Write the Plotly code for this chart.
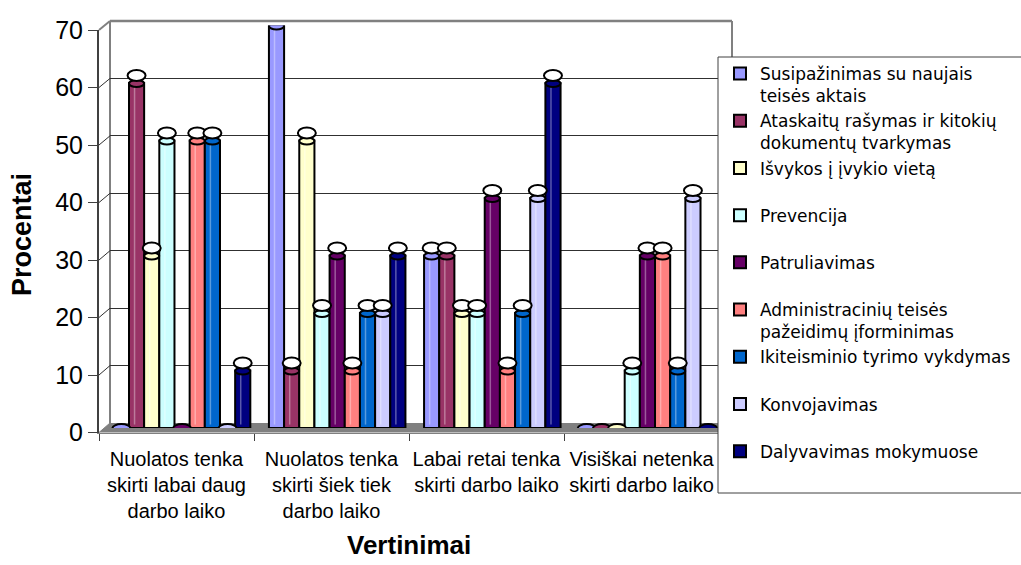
import plotly.graph_objects as go

# ---------------- data ----------------
categories = [
    "Nuolatos tenka<br>skirti labai daug<br>darbo laiko",
    "Nuolatos tenka<br>skirti šiek tiek<br>darbo laiko",
    "Labai retai tenka<br>skirti darbo laiko",
    "Visiškai netenka<br>skirti darbo laiko",
]
series_names = [
    "Susipažinimas su naujais<br>teisės aktais",
    "Ataskaitų rašymas ir kitokių<br>dokumentų tvarkymas",
    "Išvykos į įvykio vietą<br>\u00a0",
    "Prevencija<br>\u00a0",
    "Patruliavimas<br>\u00a0",
    "Administracinių teisės<br>pažeidimų įforminimas",
    "Ikiteisminio tyrimo vykdymas<br>\u00a0",
    "Konvojavimas<br>\u00a0",
    "Dalyvavimas mokymuose<br>\u00a0",
]
s_susipazinimas = [0, 70, 30, 0]
s_ataskaitos = [60, 10, 30, 0]
s_isvykos = [30, 50, 20, 0]
s_prevencija = [50, 20, 20, 10]
s_patruliavimas = [0, 30, 40, 30]
s_administracines = [50, 10, 10, 30]
s_ikiteisminis = [50, 20, 20, 10]
s_konvojavimas = [0, 20, 40, 40]
s_mokymai = [10, 30, 60, 0]
series_values = [s_susipazinimas, s_ataskaitos, s_isvykos, s_prevencija,
                 s_patruliavimas, s_administracines, s_ikiteisminis,
                 s_konvojavimas, s_mokymai]
colors = ["#9999FF", "#993366", "#FFFFCC", "#CCFFFF", "#660066",
          "#FF8080", "#0066CC", "#CCCCFF", "#000080"]
y_ticks = [0, 10, 20, 30, 40, 50, 60, 70]

# ---------------- geometry helpers (pixel -> paper) ----------------
W, H = 1021, 565
def fx(px):
    return px / W
def fy(py):
    return 1 - py / H

FRONT_X = (99, 719); FRONT_Y = (432.5, 30)
BACK_X = (110, 731); BACK_Y = (423, 21)
MID_X = (104.5, 725); MID_Y = (428, 25.5)
LEG = (718, 57, 493)  # left, top, bottom of legend box
YMAX = 70

def yF(v):
    return FRONT_Y[0] - v * (FRONT_Y[0] - FRONT_Y[1]) / YMAX
def yB(v):
    return BACK_Y[0] - v * (BACK_Y[0] - BACK_Y[1]) / YMAX

fig = go.Figure()

# invisible trace carrying the category labels on the front axis
fig.add_trace(go.Scatter(x=categories, y=[0] * len(categories), mode="markers",
                         marker=dict(opacity=0), hoverinfo="skip",
                         showlegend=False, xaxis="x", yaxis="y"))
# invisible trace to create the back-wall subplot (gridlines)
fig.add_trace(go.Scatter(x=[0], y=[0], mode="markers", marker=dict(opacity=0),
                         hoverinfo="skip", showlegend=False,
                         xaxis="x2", yaxis="y2"))

xs = list(range(len(categories)))
for name, vals, col in zip(series_names, series_values, colors):
    fig.add_trace(go.Bar(
        x=xs, y=vals, name=name, xaxis="x3", yaxis="y3",
        marker=dict(color=col, line=dict(color="black", width=2)),
    ))

# ---------------- shapes ----------------
shapes = []
# floor
shapes.append(dict(type="path", xref="paper", yref="paper", layer="below",
                   path=f"M {fx(FRONT_X[0])},{fy(FRONT_Y[0])} L {fx(1021)},{fy(FRONT_Y[0])} "
                        f"L {fx(1021)},{fy(BACK_Y[0])} L {fx(BACK_X[0])},{fy(BACK_Y[0])} Z",
                   fillcolor="#808080", line=dict(width=0)))
# side-wall diagonals
for v in y_ticks:
    col = "#808080" if v in (0, YMAX) else "#303030"
    shapes.append(dict(type="line", xref="paper", yref="paper", layer="above",
                       x0=fx(FRONT_X[0]), y0=fy(yF(v)), x1=fx(BACK_X[0]), y1=fy(yB(v)),
                       line=dict(color=col, width=2 if v == YMAX else 1)))
# back wall left edge, top edge, right edge
shapes.append(dict(type="line", xref="paper", yref="paper", layer="below",
                   x0=fx(BACK_X[0]), y0=fy(BACK_Y[0]), x1=fx(BACK_X[0]), y1=fy(BACK_Y[1]),
                   line=dict(color="#808080", width=2)))
shapes.append(dict(type="line", xref="paper", yref="paper", layer="above",
                   x0=fx(BACK_X[0]), y0=fy(BACK_Y[1]), x1=fx(BACK_X[1] + 1), y1=fy(BACK_Y[1]),
                   line=dict(color="#808080", width=2.5)))
shapes.append(dict(type="line", xref="paper", yref="paper", layer="above",
                   x0=fx(BACK_X[1] + 1), y0=fy(BACK_Y[1]), x1=fx(BACK_X[1] + 1), y1=fy(BACK_Y[0]),
                   line=dict(color="#808080", width=2)))

# cylinder caps and (blank) data-label ovals, anchored to each bar
n = len(series_values)
bargap = 0.12
bw = (1 - bargap) / n
for i, (vals, col) in enumerate(zip(series_values, colors)):
    for k, v in enumerate(vals):
        xc = k - (1 - bargap) / 2 + (i + 0.5) * bw
        if v == 0:
            shapes.append(dict(type="circle", xref="x3", yref="y3", layer="above",
                               xsizemode="pixel", ysizemode="pixel",
                               xanchor=xc, yanchor=v, x0=-9, x1=9, y0=-5, y1=4,
                               fillcolor=col, line=dict(color="black", width=2)))
            continue
        # subtle highlight stripe of the cylinder
        shapes.append(dict(type="line", xref="x3", yref="y3", layer="above",
                           xsizemode="pixel", xanchor=xc, x0=-2, x1=-2,
                           y0=0.6, y1=v - 0.6,
                           line=dict(color="rgba(255,255,255,0.35)", width=1.5)))
        # cap of cylinder
        shapes.append(dict(type="circle", xref="x3", yref="y3", layer="above",
                           xsizemode="pixel", ysizemode="pixel",
                           xanchor=xc, yanchor=v, x0=-7.5, x1=7.5, y0=-4, y1=3,
                           fillcolor=col, line=dict(color="black", width=2)))
        # label oval
        shapes.append(dict(type="circle", xref="x3", yref="y3", layer="above",
                           xsizemode="pixel", ysizemode="pixel",
                           xanchor=xc, yanchor=v, x0=-9, x1=9, y0=2, y1=13,
                           fillcolor="white", line=dict(color="black", width=2)))

# legend box (right edge runs off the picture, as in the original)
shapes.append(dict(type="rect", xref="paper", yref="paper", layer="above",
                   x0=fx(LEG[0]), x1=fx(1030), y0=fy(LEG[2]), y1=fy(LEG[1]),
                   fillcolor="white", line=dict(color="#404040", width=1)))

font_main = "Liberation Sans, Arial, sans-serif"

fig.update_layout(
    width=W, height=H, autosize=False,
    margin=dict(l=0, r=0, t=0, b=0, autoexpand=False),
    paper_bgcolor="white", plot_bgcolor="rgba(0,0,0,0)",
    font=dict(family=font_main, color="black"),
    barmode="group", bargap=bargap, bargroupgap=0,
    showlegend=True,
    xaxis=dict(domain=[fx(FRONT_X[0]), fx(FRONT_X[1])], type="category",
               range=[-0.5, len(categories) - 0.5], anchor="y",
               tickson="boundaries", ticks="outside", ticklen=7, tickwidth=1,
               tickangle=0, automargin=False, ticklabelstandoff=8,
               tickcolor="#404040", showline=True, linecolor="#808080",
               linewidth=1, showgrid=False, zeroline=False,
               tickfont=dict(size=20, family=font_main), fixedrange=True),
    yaxis=dict(domain=[fy(FRONT_Y[0]), fy(FRONT_Y[1])], range=[0, YMAX],
               tickvals=y_ticks, anchor="x", ticks="outside", ticklen=9,
               tickwidth=1, tickcolor="#404040", showline=True, automargin=False,
               linecolor="#404040", linewidth=2, showgrid=False,
               zeroline=False, tickfont=dict(size=25, family=font_main),
               fixedrange=True),
    xaxis2=dict(domain=[fx(BACK_X[0]), fx(BACK_X[1])], range=[-0.5, 3.5],
                anchor="y2", visible=False, fixedrange=True),
    yaxis2=dict(domain=[fy(BACK_Y[0]), fy(BACK_Y[1])], range=[0, YMAX],
                anchor="x2", tickvals=y_ticks[1:-1], showgrid=True,
                gridcolor="#303030", gridwidth=1, showticklabels=False,
                ticks="", showline=False, zeroline=False, fixedrange=True),
    xaxis3=dict(domain=[fx(MID_X[0]), fx(MID_X[1])], range=[-0.5, 3.5],
                anchor="y3", visible=False, fixedrange=True),
    yaxis3=dict(domain=[fy(MID_Y[0]), fy(MID_Y[1])], range=[0, YMAX],
                anchor="x3", visible=False, fixedrange=True),
    legend=dict(xref="container", yref="container", maxheight=500,
                x=fx(LEG[0] + 2), y=fy(LEG[1] - 1), xanchor="left", yanchor="top",
                bgcolor="rgba(0,0,0,0)", borderwidth=0,
                font=dict(size=17, family="DejaVu Sans, sans-serif"),
                valign="top", traceorder="normal"),
    shapes=shapes,
    annotations=[
        dict(text="<b>Procentai</b>", x=fx(22), y=fy(235), xref="paper",
             yref="paper", showarrow=False, textangle=-90,
             xanchor="center", yanchor="middle",
             font=dict(size=27, family=font_main)),
        dict(text="<b>Vertinimai</b>", x=fx(409), y=fy(545), xref="paper",
             yref="paper", showarrow=False, xanchor="center", yanchor="middle",
             borderpad=0, font=dict(size=26, family=font_main)),
    ],
)

fig.write_html("out.html", config={"displayModeBar": False},
               post_script="document.body.style.margin='0';document.body.style.padding='0';")
